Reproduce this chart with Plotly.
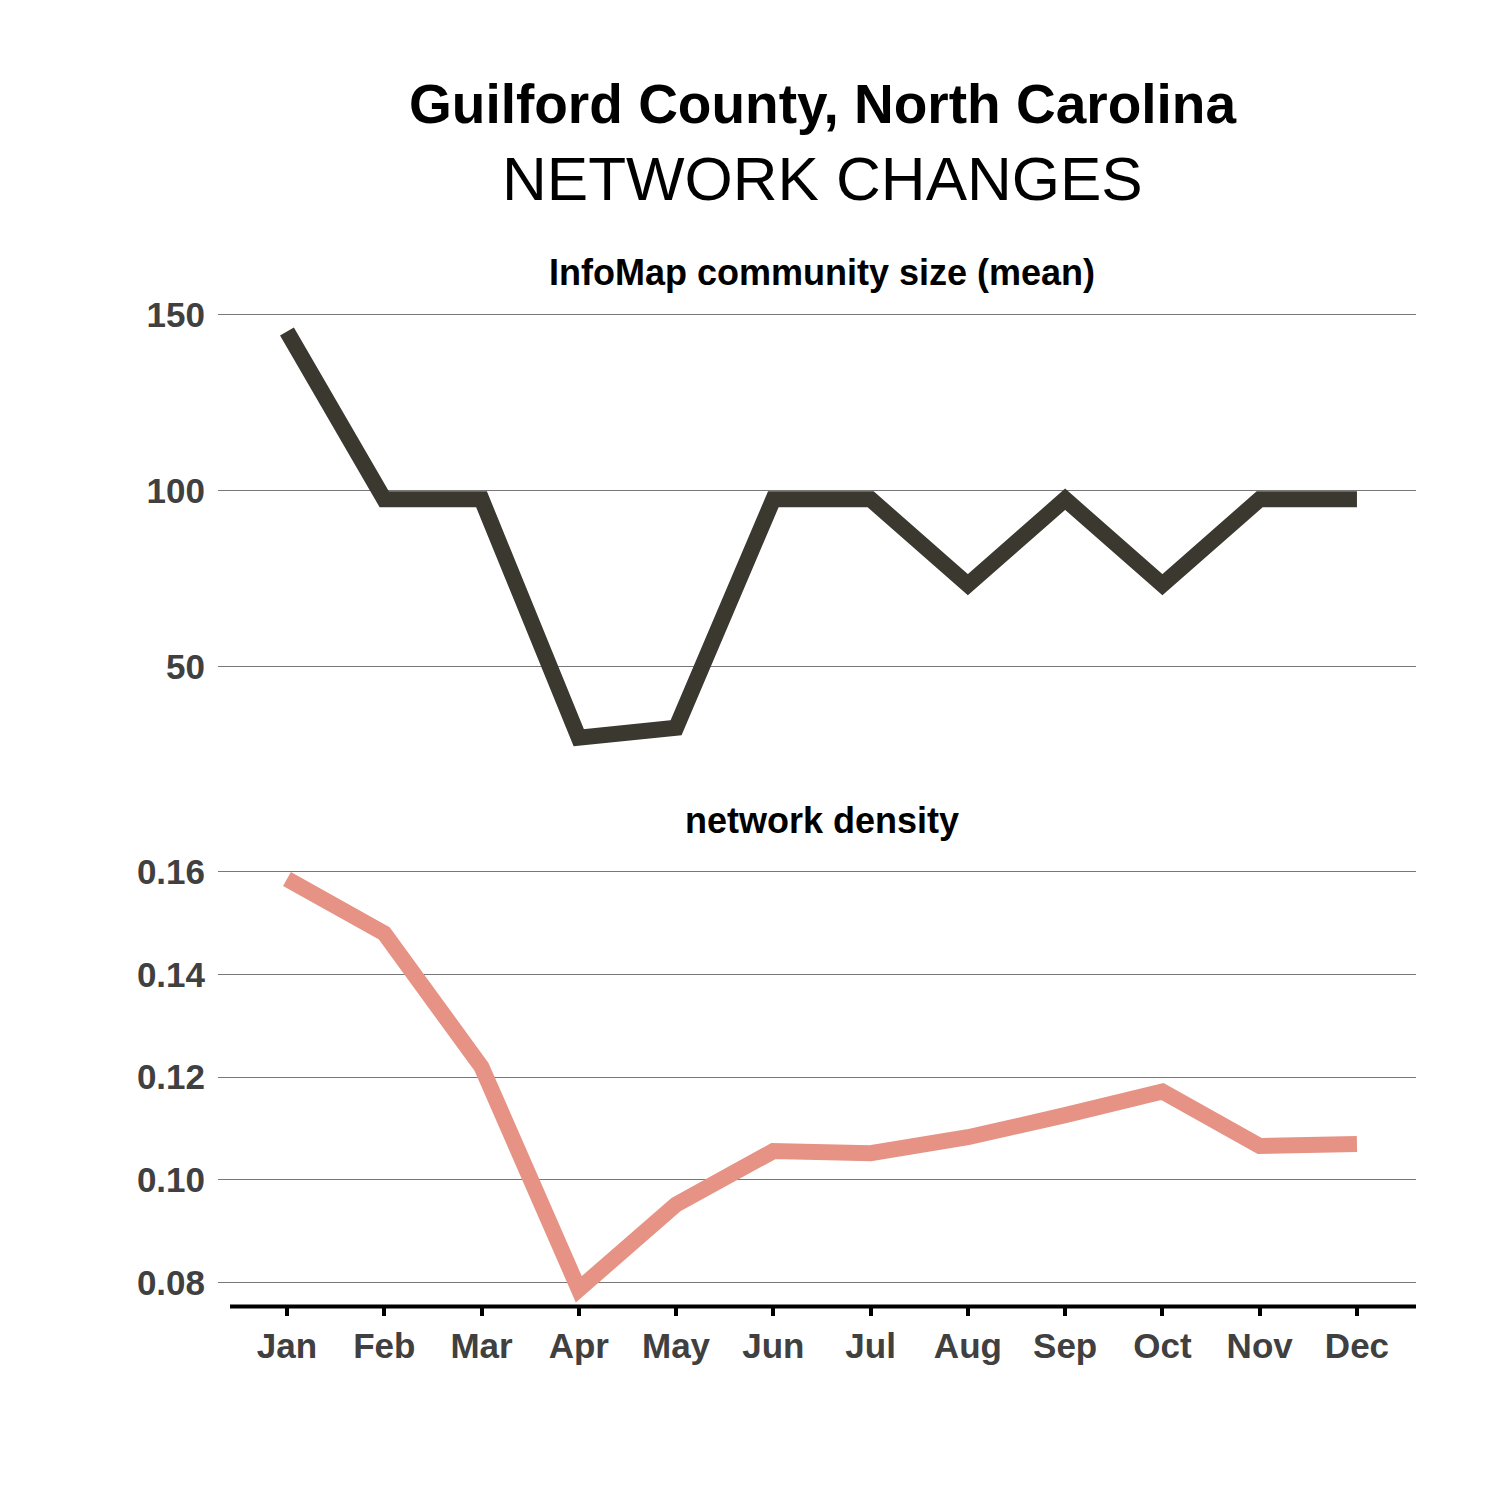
import plotly.graph_objects as go

months = ["Jan", "Feb", "Mar", "Apr", "May", "Jun", "Jul", "Aug", "Sep", "Oct", "Nov", "Dec"]
community_size = [145.2, 97.5, 97.5, 29.7, 32.5, 97.5, 97.5, 73.2, 97.5, 73.2, 97.5, 97.5]
density = [0.1586, 0.1480, 0.1220, 0.0787, 0.0952, 0.1056, 0.1052, 0.1083, 0.1126, 0.1172, 0.1066, 0.1070]

top_ticks = [50, 100, 150]
bot_ticks = [0.08, 0.10, 0.12, 0.14, 0.16]
bot_ticklabels = ["0.08", "0.10", "0.12", "0.14", "0.16"]

W = H = 1500
FONT = "Liberation Sans, Arial, sans-serif"
x_idx = list(range(len(months)))

fig = go.Figure()
fig.add_trace(go.Scatter(x=x_idx, y=community_size, mode="lines",
                         line=dict(color="#3a382f", width=16), xaxis="x", yaxis="y",
                         showlegend=False))
fig.add_trace(go.Scatter(x=x_idx, y=density, mode="lines",
                         line=dict(color="#e69385", width=16), xaxis="x2", yaxis="y2",
                         showlegend=False))

xdom = [210 / W, 1408 / W]
xrange_ = [-0.709, 11.607]
tickfont = dict(family=FONT, size=35, color="#404040", weight="bold")
grid = "#777777"

fig.update_layout(
    width=W, height=H,
    margin=dict(l=0, r=0, t=0, b=0),
    paper_bgcolor="white", plot_bgcolor="white",
    xaxis=dict(domain=xdom, range=xrange_, anchor="y", showticklabels=False,
               showgrid=False, zeroline=False, showline=False, ticks=""),
    yaxis=dict(domain=[1 - 736 / H, 1 - 289 / H], range=[26.3, 152.5], anchor="x",
               tickvals=top_ticks, ticktext=[str(v) for v in top_ticks],
               showgrid=True, gridcolor=grid, gridwidth=1, zeroline=False,
               showline=False, ticks="", tickfont=tickfont, ticklabelstandoff=12),
    xaxis2=dict(domain=xdom, range=xrange_, anchor="y2",
                tickvals=x_idx, ticktext=months, showgrid=False, zeroline=False,
                showline=False, ticks="outside", ticklen=9, tickwidth=3.5,
                tickcolor="black", tickfont=tickfont, ticklabelstandoff=0),
    yaxis2=dict(domain=[1 - 1297 / H, 1 - 849 / H], range=[0.07535, 0.16194], anchor="x2",
                tickvals=bot_ticks, ticktext=bot_ticklabels,
                showgrid=True, gridcolor=grid, gridwidth=1, zeroline=False,
                showline=False, ticks="", tickfont=tickfont, ticklabelstandoff=12),
)

# bottom axis line
fig.add_shape(type="line", xref="paper", yref="paper",
              x0=222 / W, x1=1408 / W, y0=1 - 1297 / H, y1=1 - 1297 / H,
              line=dict(color="black", width=4))

def ann(text, y_px, size, bold):
    fig.add_annotation(text=f"<b>{text}</b>" if bold else text, xref="paper", yref="paper",
                       x=814 / W, y=1 - y_px / H, showarrow=False,
                       xanchor="center", yanchor="middle",
                       font=dict(family=FONT, size=size, color="black"))

ann("Guilford County, North Carolina", 86, 55, True)
ann("NETWORK CHANGES", 161, 62, False)
ann("InfoMap community size (mean)", 255, 36, True)
ann("network density", 807, 36, True)

fig.write_html("out.html")
